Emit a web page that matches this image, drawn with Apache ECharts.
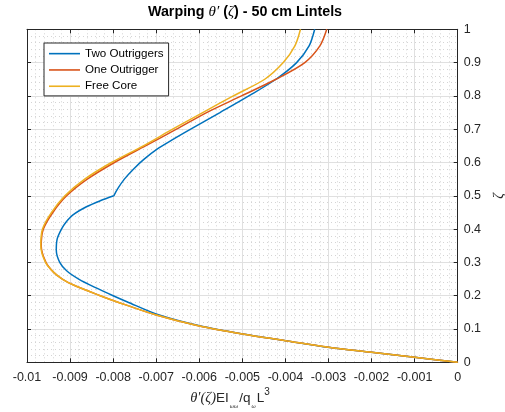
<!DOCTYPE html>
<html><head><meta charset="utf-8">
<script src="https://cdn.jsdelivr.net/npm/echarts@6/dist/echarts.min.js"></script>
<style>html,body{margin:0;padding:0;background:#fff}#c{width:505px;height:412px}</style>
</head><body><div id="c"></div>
<script>
// ---- data ----
const seriesNames = ['Two Outriggers', 'One Outrigger', 'Free Core'];
const xTicks = [-0.01, -0.009, -0.008, -0.007, -0.006, -0.005, -0.004, -0.003, -0.002, -0.001, 0];
const yTicks = [0, 0.1, 0.2, 0.3, 0.4, 0.5, 0.6, 0.7, 0.8, 0.9, 1];

const zetaTwo  = [0, 0.015, 0.03, 0.045, 0.065, 0.085, 0.109, 0.142, 0.182, 0.2, 0.225, 0.25, 0.275, 0.3, 0.337, 0.37, 0.4, 0.42, 0.442, 0.467, 0.485, 0.5, 0.52, 0.55, 0.58, 0.61, 0.64, 0.67, 0.7, 0.75, 0.8, 0.85, 0.9, 0.95, 1];
const thetaTwo = [0, -0.001, -0.002, -0.003, -0.004, -0.00499, -0.00597, -0.00693, -0.00768, -0.008, -0.00842, -0.0088, -0.00908, -0.00924, -0.00932, -0.0093, -0.0092, -0.0091, -0.00894, -0.00862, -0.0083, -0.007985, -0.0079, -0.00774, -0.00753, -0.00728, -0.00698, -0.0066, -0.0062, -0.00552, -0.00485, -0.00422, -0.00374, -0.00345, -0.00332];
const kinkIndex = 21; // zeta = 0.5

const zetaOne  = [0, 0.015, 0.03, 0.045, 0.065, 0.085, 0.109, 0.142, 0.182, 0.2, 0.232, 0.25, 0.27, 0.3, 0.35, 0.4, 0.45, 0.5, 0.55, 0.6, 0.65, 0.7, 0.75, 0.8, 0.85, 0.9, 0.95, 1];
const thetaOne = [0, -0.001, -0.002, -0.003, -0.004, -0.005, -0.006, -0.007, -0.00792, -0.0083, -0.00892, -0.00918, -0.00938, -0.00956, -0.00967, -0.00962, -0.0094, -0.00908, -0.0086, -0.00797, -0.00725, -0.00653, -0.00583, -0.00502, -0.00422, -0.00355, -0.0032, -0.00304];

const zetaFree  = [0, 0.015, 0.03, 0.045, 0.065, 0.085, 0.109, 0.142, 0.182, 0.2, 0.232, 0.25, 0.27, 0.3, 0.35, 0.4, 0.45, 0.5, 0.55, 0.6, 0.65, 0.7, 0.75, 0.8, 0.85, 0.9, 0.95, 1];
const thetaFree = [0, -0.001, -0.002, -0.003, -0.004, -0.005, -0.006, -0.007, -0.00792, -0.0083, -0.00892, -0.00918, -0.00938, -0.00957, -0.00968, -0.00964, -0.00943, -0.00912, -0.00866, -0.00804, -0.0073, -0.00662, -0.00592, -0.00521, -0.00448, -0.00405, -0.00378, -0.00365];

const colors = ['#0072BD', '#D95319', '#EDB120'];

// ---- build ----
function pairs(xs, zs, a, b) {
  const out = [];
  for (let i = a; i < b; i++) out.push([xs[i], zs[i]]);
  return out;
}
const axisColor = '#262626';
const font = 'Liberation Sans, Arial, Helvetica, sans-serif';
const lineBase = { type: 'line', symbol: 'none', smooth: 0.3, xAxisIndex: 0, yAxisIndex: 0 };

const chart = echarts.init(document.getElementById('c'), null, { renderer: 'canvas' });
chart.setOption({
  animation: false,
  color: colors,
  grid: { left: 27, right: 47.3, top: 29.3, height: 333, containLabel: false, outerBoundsMode: 'none' },
  legend: {
    data: seriesNames.map(n => ({ name: n, icon: 'rect' })),
    orient: 'vertical', left: 44, top: 43,
    backgroundColor: '#fff', borderColor: axisColor, borderWidth: 1,
    padding: [4, 5, 3, 5], itemGap: 3, itemWidth: 31, itemHeight: 1.6, itemTextGap: 3,
    textStyle: { fontFamily: font, fontSize: 11.6, color: '#000', lineHeight: 13.3 }
  },
  xAxis: [{
    type: 'value', position: 'bottom', min: -0.01, max: 0, interval: 0.001,
    axisLine: { onZero: false, lineStyle: { color: axisColor, width: 1 } },
    axisTick: { inside: true, length: 4, lineStyle: { color: axisColor } },
    axisLabel: { color: axisColor, fontFamily: font, fontSize: 12.5, margin: 9,
      formatter: v => { const t = xTicks.find(k => Math.abs(k - v) < 1e-9); return t === undefined ? '' : String(t); } },
    splitLine: { show: true, lineStyle: { color: '#e0e0e0', width: 1 } },
    minorTick: { show: false, splitNumber: 5 },
    minorSplitLine: { show: true, lineStyle: { color: '#d4d4d4', width: 1, type: [1, 3] } }
  }, {
    type: 'value', position: 'top', min: -0.01, max: 0, interval: 0.001,
    axisLine: { onZero: false, lineStyle: { color: axisColor, width: 1 } },
    axisTick: { inside: true, length: 4, lineStyle: { color: axisColor } },
    axisLabel: { show: false }, splitLine: { show: false }
  }],
  yAxis: [{
    type: 'value', position: 'right', min: 0, max: 1, interval: 0.1,
    axisLine: { onZero: false, lineStyle: { color: axisColor, width: 1 } },
    axisTick: { inside: true, length: 4, lineStyle: { color: axisColor } },
    axisLabel: { color: axisColor, fontFamily: font, fontSize: 12.5, margin: 6,
      formatter: v => { const t = yTicks.find(k => Math.abs(k - v) < 1e-9); return t === undefined ? '' : String(t); } },
    splitLine: { show: true, lineStyle: { color: '#e0e0e0', width: 1 } },
    minorTick: { show: false, splitNumber: 5 },
    minorSplitLine: { show: true, lineStyle: { color: '#d4d4d4', width: 1, type: [1, 3] } },
    name: 'ζ', nameLocation: 'middle', nameGap: 32, nameRotate: 90,
    nameTextStyle: { fontFamily: 'Liberation Serif, serif', fontStyle: 'italic', fontSize: 14, color: axisColor }
  }, {
    type: 'value', position: 'left', min: 0, max: 1, interval: 0.1,
    axisLine: { onZero: false, lineStyle: { color: axisColor, width: 1 } },
    axisTick: { inside: true, length: 4, lineStyle: { color: axisColor } },
    axisLabel: { show: false }, splitLine: { show: false }
  }],
  series: [
    Object.assign({}, lineBase, { name: seriesNames[0], data: pairs(thetaTwo, zetaTwo, 0, kinkIndex + 1), lineStyle: { width: 1.5, color: colors[0] }, itemStyle: { color: colors[0] } }),
    Object.assign({}, lineBase, { name: seriesNames[0], data: pairs(thetaTwo, zetaTwo, kinkIndex, zetaTwo.length), lineStyle: { width: 1.5, color: colors[0] }, itemStyle: { color: colors[0] } }),
    Object.assign({}, lineBase, { name: seriesNames[1], data: pairs(thetaOne, zetaOne, 0, zetaOne.length), lineStyle: { width: 1.5, color: colors[1] }, itemStyle: { color: colors[1] } }),
    Object.assign({}, lineBase, { name: seriesNames[2], data: pairs(thetaFree, zetaFree, 0, zetaFree.length), lineStyle: { width: 1.5, color: colors[2] }, itemStyle: { color: colors[2] } })
  ],
  graphic: [{
    type: 'text', z: 100,
    style: {
      x: 245, y: 12, align: 'center', verticalAlign: 'middle',
      text: '{b|Warping }{t|θ′}{b| (}{t|ζ}{b|) - 50 cm Lintels}',
      rich: {
        b: { fontFamily: font, fontWeight: 'bold', fontSize: 14.3, fill: '#000' },
        t: { fontFamily: 'Liberation Serif, serif', fontStyle: 'italic', fontSize: 15, fill: '#000' }
      }
    }
  }, {
    type: 'text', z: 100,
    style: {
      x: 230, y: 398, align: 'center', verticalAlign: 'middle',
      text: '{t|θ′(ζ)}{n|EI}{s|ωω}{n|/q}{s|ω}{n|L}{p|3}',
      rich: {
        t: { fontFamily: 'Liberation Serif, serif', fontStyle: 'italic', fontSize: 14.5, fill: axisColor, lineHeight: 22 },
        n: { fontFamily: font, fontSize: 13.5, fill: axisColor, lineHeight: 22 },
        s: { fontFamily: 'Liberation Serif, serif', fontStyle: 'italic', fontSize: 6, fill: axisColor, lineHeight: 22, verticalAlign: 'bottom', padding: [0, 1, 0, 1] },
        p: { fontFamily: font, fontSize: 10, fill: axisColor, lineHeight: 22, verticalAlign: 'top' }
      }
    }
  }]
});
</script>
</body></html>
